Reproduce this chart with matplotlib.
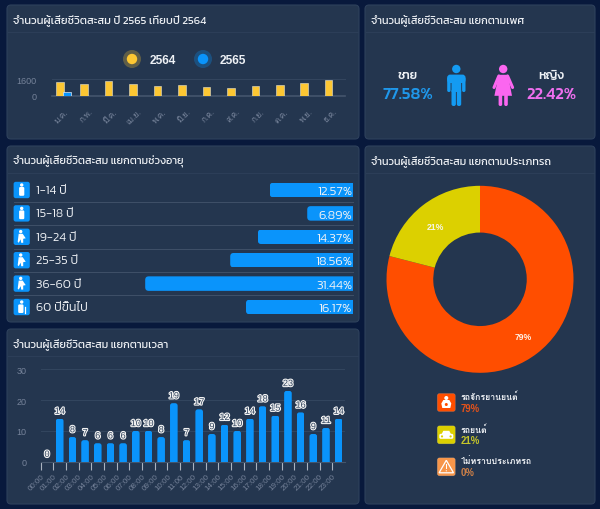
import matplotlib
matplotlib.use('Agg')
import matplotlib.pyplot as plt
from matplotlib.patches import FancyBboxPatch, Circle, Polygon, Rectangle
from matplotlib.transforms import IdentityTransform
import matplotlib.patheffects as pe

W, H, DPI = 600, 510, 100
KANIT = ['Kanit', 'Loma', 'DejaVu Sans']
LOMA = ['Loma', 'Liberation Sans', 'DejaVu Sans']
ARIAL = ['Liberation Sans', 'DejaVu Sans']

# ---- data ----
months = ['ม.ค.', 'ก.พ.', 'มี.ค.', 'เม.ย.', 'พ.ค.', 'มิ.ย.', 'ก.ค.', 'ส.ค.', 'ก.ย.', 'ต.ค.', 'พ.ย.', 'ธ.ค.']
deaths_2564 = [1330, 1170, 1430, 1170, 970, 1030, 800, 730, 900, 1030, 1230, 1500]
deaths_2565 = [300, None, None, None, None, None, None, None, None, None, None, None]
year_labels = ['2564', '2565']

age_labels = ['1-14 ปี', '15-18 ปี', '19-24 ปี', '25-35 ปี', '36-60 ปี', '60 ปีขึ้นไป']
age_values = [12.57, 6.89, 14.37, 18.56, 31.44, 16.17]

hours = ['00:00', '01:00', '02:00', '03:00', '04:00', '05:00', '06:00', '07:00', '08:00', '09:00', '10:00', '11:00',
         '12:00', '13:00', '14:00', '15:00', '16:00', '17:00', '18:00', '19:00', '20:00', '21:00', '22:00', '23:00']
hour_values = [0, 14, 8, 7, 6, 6, 6, 10, 10, 8, 19, 7, 17, 9, 12, 10, 14, 18, 15, 23, 16, 9, 11, 14]

gender_labels = ['ชาย', 'หญิง']
gender_values = [77.58, 22.42]

vehicle_labels = ['รถจักรยานยนต์', 'รถยนต์', 'ไม่ทราบประเภทรถ']
vehicle_values = [79, 21, 0]

titles = ['จำนวนผู้เสียชีวิตสะสม ปี 2565 เทียบปี 2564', 'จำนวนผู้เสียชีวิตสะสม แยกตามเพศ',
          'จำนวนผู้เสียชีวิตสะสม แยกตามช่วงอายุ', 'จำนวนผู้เสียชีวิตสะสม แยกตามเวลา',
          'จำนวนผู้เสียชีวิตสะสม แยกตามประเภทรถ']

# ---- style ----
BG = '#08193c'
PANEL = '#24364f'
EDGE = '#2e415c'
SEP = '#2c3e58'
YEL = '#fdc733'
BLUE = '#0a94fb'
ORANGE = '#ff4e00'
OLIVE = '#dcd000'
AMBER = '#f7964a'
GREY = '#76839a'
TXT = '#eef1f5'

fig = plt.figure(figsize=(W / DPI, H / DPI), dpi=DPI, facecolor=BG)


def ax_px(x0, y0, x1, y1, **kw):
    a = fig.add_axes([x0 / W, 1 - y1 / H, (x1 - x0) / W, (y1 - y0) / H], **kw)
    a.patch.set_alpha(0)
    return a


bg = ax_px(0, 0, W, H)
bg.set_xlim(0, W)
bg.set_ylim(H, 0)
bg.axis('off')


def rbox(x0, y0, x1, y1, r, **kw):
    p = FancyBboxPatch((x0 + r, y0 + r), x1 - x0 - 2 * r, y1 - y0 - 2 * r,
                       boxstyle=f'round,pad={r},rounding_size={r}', **kw)
    bg.add_patch(p)
    return p


def panel(x0, y0, x1, y1, title, size=7.8):
    rbox(x0, y0, x1, y1, 4, fc=PANEL, ec=EDGE, lw=0.8)
    bg.plot([x0 + 1, x1 - 1], [y0 + 27, y0 + 27], color=SEP, lw=0.8)
    bg.text(x0 + 6, y0 + 13.8, title, family=KANIT, fontsize=size, color=TXT, va='center', ha='left')


panel(7, 6, 359, 140, titles[0], 8.05)
panel(365, 6, 595, 140, titles[1])
panel(7, 147, 359, 323, titles[2])
panel(7, 330, 359, 505, titles[3])
panel(365, 147, 595, 505, titles[4])

# ---- panel 1: months ----
bg.add_patch(Circle((132, 60), 9, fc=YEL, alpha=0.28, ec='none'))
bg.add_patch(Circle((132, 60), 5.2, fc=YEL, ec='none'))
bg.add_patch(Circle((203, 60), 9, fc=BLUE, alpha=0.28, ec='none'))
bg.add_patch(Circle((203, 60), 5.2, fc=BLUE, ec='none'))
bg.text(149.5, 60.5, year_labels[0], family=ARIAL, weight='bold', fontsize=8.6, color=TXT, va='center')
bg.text(220, 60.5, year_labels[1], family=ARIAL, weight='bold', fontsize=8.6, color=TXT, va='center')

a1 = ax_px(51.7, 80.3, 345, 96.5)
xs = list(range(len(months)))
a1.bar([x - 0.17 for x in xs], deaths_2564, width=0.31, color=YEL, ec='#e8e4d0', lw=0.4, zorder=3)
a1.bar([x + 0.13 for x, v in zip(xs, deaths_2565) if v], [v for v in deaths_2565 if v], width=0.31,
       color=BLUE, ec='#dfe8f0', lw=0.5, zorder=3)
a1.set_xlim(-0.5, 11.5)
a1.set_ylim(0, 1600)
a1.set_yticks([0, 1600])
a1.set_xticks(xs)
a1.set_xticklabels(months, rotation=45, ha='right', rotation_mode='anchor', family=LOMA, fontsize=6.0, color=GREY)
a1.tick_params(axis='x', length=0, pad=8)
a1.tick_params(axis='y', length=0, pad=11, labelcolor=GREY, labelsize=6.5)
for t in a1.get_yticklabels():
    t.set_family(ARIAL)
for s in ['left', 'right', 'bottom']:
    a1.spines[s].set_visible(False)
a1.spines['top'].set_color('#34465f')
a1.spines['top'].set_linewidth(0.7)
a1.axhline(0, color='#44556c', lw=1.2, clip_on=False, zorder=2)

# ---- panel 2: gender ----
bg.text(408, 76, gender_labels[0], family=KANIT, fontsize=8.8, fontweight=500, color=TXT, ha='center', va='center')
bg.text(408, 95, f'{gender_values[0]:.2f}%', family=KANIT, fontsize=12, fontweight=500, color='#1f97ea', ha='center', va='center')
bg.text(551, 76, gender_labels[1], family=KANIT, fontsize=8.8, fontweight=500, color=TXT, ha='center', va='center')
bg.text(551, 95, f'{gender_values[1]:.2f}%', family=KANIT, fontsize=12, fontweight=500, color='#ee6fee', ha='center', va='center')

MALE = '#149bf2'
bg.add_patch(Circle((456.3, 70), 4.2, fc=MALE, ec='none'))
rbox(447.2, 75.6, 465.5, 84, 3, fc=MALE, ec='none')
rbox(447.2, 78, 450.6, 93, 1.6, fc=MALE, ec='none')
rbox(462.1, 78, 465.5, 93, 1.6, fc=MALE, ec='none')
rbox(451.5, 78, 461.2, 93, 0.5, fc=MALE, ec='none')
rbox(451.5, 90, 455.9, 107, 2, fc=MALE, ec='none')
rbox(456.8, 90, 461.2, 107, 2, fc=MALE, ec='none')

FEM = '#fb66f0'
bg.add_patch(Circle((503.2, 70), 4.2, fc=FEM, ec='none'))
bg.add_patch(Polygon([(498.5, 75.8), (507.9, 75.8), (509.5, 84), (512, 96.8), (494.4, 96.8), (497, 84)], fc=FEM, ec='none'))
bg.plot([498.8, 494], [77, 88.5], color=FEM, lw=2.2, solid_capstyle='round')
bg.plot([507.6, 512.6], [77, 88.5], color=FEM, lw=2.2, solid_capstyle='round')
rbox(498.6, 95, 502.2, 107, 1.7, fc=FEM, ec='none')
rbox(504.2, 95, 507.8, 107, 1.7, fc=FEM, ec='none')

# ---- panel 3: ages ----
PX_PER_PCT = 6.6
row_h = 23.4
a3 = ax_px(30, 179.3, 352.7, 179.3 + 6 * row_h)
a3.set_xlim(322.7 / PX_PER_PCT, 0)
a3.set_ylim(5.5, -0.5)
a3.axis('off')
age_bars = a3.barh(range(6), age_values, height=0.62, color=BLUE, ec='none', zorder=3)
fig.canvas.draw()
for i, b in enumerate(age_bars):
    e = b.get_window_extent()
    r = 3.5
    clip = FancyBboxPatch((e.x0 + r, e.y0 + r), e.width + 10, e.height - 2 * r,
                          boxstyle=f'round,pad={r},rounding_size={r}', transform=IdentityTransform())
    b.set_clip_path(clip)
    a3.text(0.08, i + 0.05, f'{age_values[i]:.2f}%', family=KANIT, fontsize=9.4, color=TXT, ha='right', va='center', zorder=5,
            fontweight=300)
    cy = 191 + row_h * i
    bg.text(35.5, cy, age_labels[i], family=KANIT, fontsize=9, color=TXT, va='center', ha='left', fontweight=300)
    rbox(13.6, cy - 8.2, 29.8, cy + 8.2, 2.2, fc=BLUE, ec='none')
    cx = 21.7
    if i < 2:
        bg.add_patch(Circle((cx, cy - 5), 1.7, fc='white', ec='none'))
        rbox(cx - 2.6, cy - 3, cx + 2.6, cy + 5.8, 1.2, fc='white', ec='none')
    elif i < 5:
        bg.add_patch(Circle((cx - 1, cy - 5.2), 1.7, fc='white', ec='none'))
        bg.add_patch(Polygon([(cx - 3, cy - 3), (cx + 1, cy - 3), (cx + 4, cy + 1.5), (cx + 1.5, cy + 2),
                              (cx + 1.5, cy + 6), (cx - 0.5, cy + 6), (cx - 1, cy + 2.5), (cx - 3, cy + 6), (cx - 4, cy + 5)],
                             fc='white', ec='none'))
    else:
        bg.add_patch(Circle((cx, cy - 5), 1.7, fc='white', ec='none'))
        rbox(cx - 3.5, cy - 2.6, cx + 1.8, cy + 6, 1.2, fc='white', ec='none')
        bg.plot([cx + 3.5, cx + 3.5], [cy - 0.5, cy + 6], color='white', lw=0.9)
    if i < 5:
        bg.plot([13.6, 352.7], [cy + row_h / 2, cy + row_h / 2], color='#3f5068', lw=0.7)

# ---- panel 4: hours ----
a4 = ax_px(40.7, 370.3, 345, 462.7)
hx = list(range(len(hours)))
hbars = a4.bar(hx, hour_values, width=0.6, color=BLUE, ec='none', zorder=3)
a4.set_xlim(-0.5, 23.5)
a4.set_ylim(0, 30)
a4.set_yticks([0, 10, 20, 30])
a4.grid(axis='y', color='#33465f', lw=0.7, zorder=1)
a4.set_xticks([x - 0.5 for x in hx])
a4.set_xticklabels(hours, rotation=45, ha='right', rotation_mode='anchor', family=ARIAL, fontsize=5.8, color=GREY)
a4.tick_params(axis='x', length=6, width=0.8, color='#aab3bf', pad=2)
a4.tick_params(axis='y', length=0, pad=10, labelcolor=GREY, labelsize=6.5)
for t in a4.get_yticklabels():
    t.set_family(ARIAL)
for s in ['left', 'right', 'top']:
    a4.spines[s].set_visible(False)
a4.spines['bottom'].set_color('#44556c')
a4.spines['bottom'].set_linewidth(0.8)
fig.canvas.draw()
for b, v, x in zip(hbars, hour_values, hx):
    e = b.get_window_extent()
    r = 2.5
    clip = FancyBboxPatch((e.x0 + r, e.y0 - 5), e.width - 2 * r, e.height + 5 - r,
                          boxstyle=f'round,pad={r},rounding_size={r}', transform=IdentityTransform())
    b.set_clip_path(clip)
    a4.annotate(str(v), (x, v), xytext=(0, 2), textcoords='offset points', ha='center', va='bottom', family=ARIAL,
                fontsize=6.6, color='#33465f', zorder=6,
                path_effects=[pe.withStroke(linewidth=1.6, foreground='#f2f2f2')])

# ---- panel 5: vehicles ----
CX, CY, R = 480, 280.3, 93.5
a5 = ax_px(CX - R, CY - R, CX + R, CY + R)
a5.pie(vehicle_values, colors=[ORANGE, OLIVE, AMBER], startangle=90, counterclock=False, radius=1,
       wedgeprops={'width': 0.5, 'linewidth': 0})
a5.set_xlim(-1, 1)
a5.set_ylim(-1, 1)
a5.text((435.7 - CX) / R, (CY - 227.7) / R, f'{vehicle_values[1]}%', family=ARIAL, weight='bold', fontsize=6.2, color='#f5f5e6', ha='center', va='center')
a5.text((523 - CX) / R, (CY - 337.7) / R, f'{vehicle_values[0]}%', family=ARIAL, weight='bold', fontsize=6.2, color='#fff1e6', ha='center', va='center')

leg_y = [403.5, 435.8, 467.8]
leg_colors = [ORANGE, OLIVE, AMBER]
leg_pct = ['#e5521a', '#c6c62a', '#cf8148']
for i in range(3):
    cy = leg_y[i]
    rbox(437.3, cy - 9, 455.3, cy + 9, 2.2, fc=leg_colors[i], ec='#ffffff30', lw=0.4)
    bg.text(461, cy - 5.8, vehicle_labels[i], family=LOMA, weight='bold', fontsize=6.3, color=TXT, va='center')
    bg.text(461, cy + 5.6, f'{vehicle_values[i]}%', family=ARIAL, weight='bold', fontsize=6.9, color=leg_pct[i], va='center')
cx = 446.3
cy = leg_y[0]
bg.add_patch(Polygon([(cx - 5, cy + 1), (cx - 3, cy - 2.5), (cx + 3, cy - 2.5), (cx + 5, cy + 1), (cx + 4, cy + 5.5), (cx - 4, cy + 5.5)], fc='white', ec='none'))
bg.add_patch(Circle((cx, cy - 4.5), 2, fc='white', ec='none'))
bg.add_patch(Circle((cx, cy + 2), 1.5, fc=ORANGE, ec='none'))
cy = leg_y[1]
rbox(cx - 7, cy - 1, cx + 7, cy + 4, 1.5, fc='white', ec='none')
bg.add_patch(Polygon([(cx - 5, cy), (cx - 3, cy - 4), (cx + 3, cy - 4), (cx + 5, cy)], fc='white', ec='none'))
bg.add_patch(Circle((cx - 4.3, cy + 1.6), 1.1, fc=OLIVE, ec='none'))
bg.add_patch(Circle((cx + 4.3, cy + 1.6), 1.1, fc=OLIVE, ec='none'))
cy = leg_y[2]
bg.add_patch(Polygon([(cx, cy - 6.5), (cx + 7.2, cy + 6), (cx - 7.2, cy + 6)], closed=True, fc='none', ec='white', lw=0.9))
bg.add_patch(Rectangle((cx - 0.5, cy - 2.5), 1, 5, fc='white', ec='none'))
bg.add_patch(Circle((cx, cy + 4), 0.6, fc='white', ec='none'))

fig.savefig('out.png', dpi=DPI, facecolor=BG)
